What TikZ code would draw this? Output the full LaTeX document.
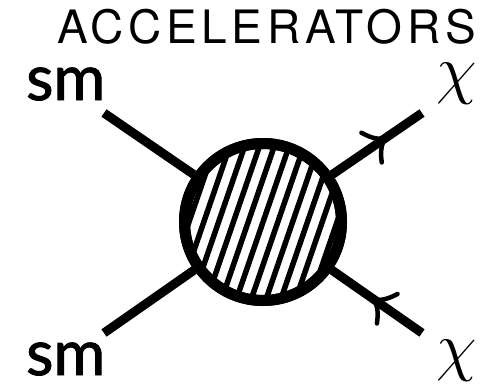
\RequirePackage{fix-cm}
\documentclass[tikz,border=0pt]{standalone}
\usepackage{fontspec}
\usetikzlibrary{decorations.markings}
\newfontfamily\helv[LetterSpace=10]{TeX Gyre Heros}
\newfontfamily\smfont[FakeBold=1.5]{Lato}
\tikzset{
  fline/.style={line width=9pt},
  barb/.style={line width=4.5pt, line cap=round},
  hatchline/.style={line width=5.5pt},
  arrowat/.style={postaction={decorate},
    decoration={markings, mark=at position #1 with {
      \draw[barb] (-17,18) .. controls (-11,6) and (-5,1.5) .. (0,0)
                  .. controls (-5,-1.5) and (-11,-6) .. (-17,-18);}}},
  lbl/.style={inner sep=0pt, anchor=base west}
}
\begin{document}
\begin{tikzpicture}[x=1pt,y=-1pt]
\useasboundingbox (0,0) rectangle (484,384);
\node[circle, draw, line width=11pt, minimum size=157pt, inner sep=0pt, fill=white] (blob) at (263,222) {};
\begin{scope}
  \clip (blob.center) circle (79);
  \begin{scope}[shift={(blob.center)}, rotate=71]
    \foreach \k in {-6,...,6} \draw[hatchline] (-95,\k*14) -- (95,\k*14);
  \end{scope}
\end{scope}
\draw[line width=11pt] (blob.center) circle (78.5);
\coordinate (tl) at (104,113);
\coordinate (tr) at (422,113);
\coordinate (bl) at (104,333);
\coordinate (br) at (422,333);
\draw[fline] (tl) -- (blob);
\draw[fline] (bl) -- (blob);
\draw[fline, arrowat=0.595] (blob) -- (tr);
\draw[fline, arrowat=0.542] (br) -- (blob);
\node[lbl] (title) at (57,43) {\helv\fontsize{46}{46}\selectfont ACCELERATORS};
\node[lbl] (sm1) at (26,100) {\smfont\fontsize{63}{63}\selectfont sm};
\node[lbl] (sm2) at (26,375) {\smfont\fontsize{63}{63}\selectfont sm};
\node[lbl] (chi1) at (436,91.5) {\fontsize{66}{66}\selectfont$\chi$};
\node[lbl] (chi2) at (436,368.5) {\fontsize{66}{66}\selectfont$\chi$};
\end{tikzpicture}
\end{document}
